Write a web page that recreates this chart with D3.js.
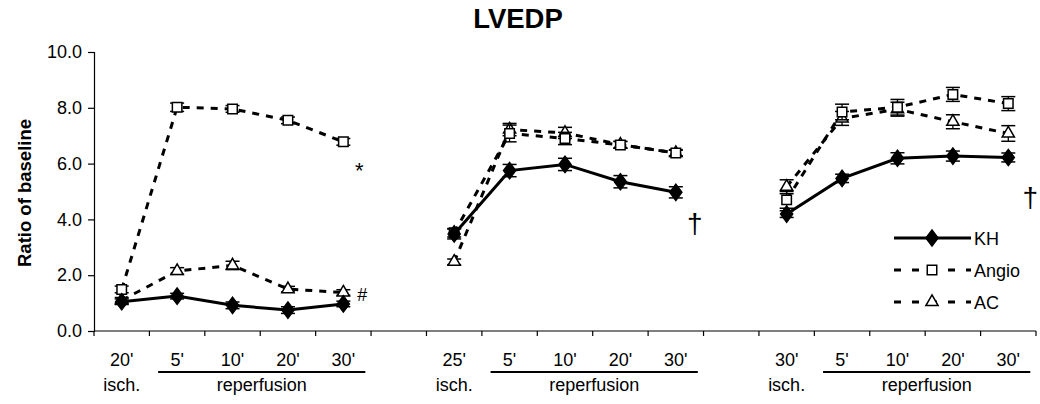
<!DOCTYPE html>
<html>
<head>
<meta charset="utf-8">
<script src="https://cdn.jsdelivr.net/npm/d3@7"></script>
<style>
  html, body { margin: 0; padding: 0; background: #fff; }
  svg { display: block; font-family: "Liberation Sans", Arial, sans-serif; }
</style>
</head>
<body>
<svg id="chart" width="1040" height="404"></svg>
<script>
// Time points: three protocols (20', 25', 30' ischemia) each followed by 4 reperfusion points,
// separated by one empty slot.
const timeLabels = ["20'", "5'", "10'", "20'", "30'", "", "25'", "5'", "10'", "20'", "30'", "", "30'", "5'", "10'", "20'", "30'"];
const phaseGroups = [
  { isch: 0, first: 1, last: 4 },
  { isch: 6, first: 7, last: 10 },
  { isch: 12, first: 13, last: 16 }
];

// LVEDP as ratio of baseline (null = gap between protocols)
const khValues    = [1.05, 1.25, 0.92, 0.75, 0.97, null, 3.48, 5.75, 5.97, 5.35, 4.97, null, 4.19, 5.47, 6.19, 6.27, 6.22];
const khErrors    = [0.10, 0.10, 0.12, 0.12, 0.10, null, 0.18, 0.22, 0.22, 0.22, 0.20, null, 0.12, 0.15, 0.20, 0.18, 0.16];
const angioValues = [1.49, 8.02, 7.96, 7.55, 6.78, null, 3.52, 7.08, 6.90, 6.67, 6.38, null, 4.70, 7.85, 8.02, 8.48, 8.15];
const angioErrors = [0.12, 0.15, 0.12, 0.12, 0.12, null, 0.15, 0.30, 0.22, 0.12, 0.10, null, 0.30, 0.28, 0.28, 0.25, 0.25];
const acValues    = [1.10, 2.15, 2.35, 1.50, 1.38, null, 2.48, 7.22, 7.10, 6.68, 6.38, null, 5.17, 7.62, 7.95, 7.50, 7.08];
const acErrors    = [0.10, 0.12, 0.15, 0.10, 0.10, null, 0.10, 0.22, 0.20, 0.12, 0.12, null, 0.25, 0.25, 0.25, 0.25, 0.28];

const yTicks = [0, 2, 4, 6, 8, 10];

// Significance marks after the last point of a protocol (value = text baseline)
const annotations = [
  { text: "*", index: 4, value: 5.48, dx: 16, size: 22 },
  { text: "#", index: 4, value: 1.06, dx: 19, size: 18 },
  { text: "\u2020", index: 10, value: 3.53, dx: 19, size: 28 },
  { text: "\u2020", index: 16, value: 4.43, dx: 22, size: 28 }
];

const svg = d3.select("#chart");

const x = d3.scaleBand().domain(d3.range(timeLabels.length)).range([94, 1036]).padding(0);
const y = d3.scaleLinear().domain([0, 10]).range([331, 52]);
const cx = i => x(i) + x.bandwidth() / 2;
const labelSize = 18;

// Title
svg.append("text")
  .attr("x", 518).attr("y", 28)
  .attr("text-anchor", "middle")
  .attr("font-size", 27.5).attr("font-weight", "bold")
  .text("LVEDP");

// Y axis
const yAxis = d3.axisLeft(y).tickValues(yTicks).tickFormat(d3.format(".1f")).tickSize(6).tickPadding(6);
const yg = svg.append("g").attr("transform", "translate(94,0)").call(yAxis);
yg.select(".domain").attr("stroke", "#000").attr("stroke-width", 1.2);
yg.selectAll(".tick line").attr("stroke", "#000").attr("stroke-width", 1.2);
yg.selectAll(".tick text").attr("font-size", labelSize).attr("fill", "#000").attr("font-family", "Liberation Sans, Arial, sans-serif");

// Y axis title
svg.append("text")
  .attr("transform", "translate(31,193) rotate(-90)")
  .attr("text-anchor", "middle")
  .attr("font-size", 18.5).attr("font-weight", "bold")
  .text("Ratio of baseline");

// X axis: ticks on category boundaries
const xg = svg.append("g");
xg.append("line")
  .attr("x1", x(0)).attr("x2", x.range()[1])
  .attr("y1", y(0)).attr("y2", y(0))
  .attr("stroke", "#000").attr("stroke-width", 1.2);
xg.selectAll("line.tick")
  .data(d3.range(timeLabels.length + 1))
  .join("line")
  .attr("class", "tick")
  .attr("x1", i => i < timeLabels.length ? x(i) : x.range()[1])
  .attr("x2", i => i < timeLabels.length ? x(i) : x.range()[1])
  .attr("y1", y(0)).attr("y2", y(0) + 5)
  .attr("stroke", "#000").attr("stroke-width", 1.2);

// Time labels
xg.selectAll("text.time")
  .data(timeLabels.map((t, i) => ({ t, i })).filter(d => d.t !== ""))
  .join("text")
  .attr("class", "time")
  .attr("x", d => cx(d.i)).attr("y", 366)
  .attr("text-anchor", "middle")
  .attr("font-size", labelSize)
  .text(d => d.t);

// Phase labels and underline for reperfusion
phaseGroups.forEach(g => {
  xg.append("text")
    .attr("x", cx(g.isch)).attr("y", 391)
    .attr("text-anchor", "middle").attr("font-size", labelSize)
    .text("isch.");
  const x1 = cx(g.first) - 19, x2 = cx(g.last) + 22;
  xg.append("line")
    .attr("x1", x1).attr("x2", x2).attr("y1", 372).attr("y2", 372)
    .attr("stroke", "#000").attr("stroke-width", 2.2);
  xg.append("text")
    .attr("x", (x1 + x2) / 2).attr("y", 391)
    .attr("text-anchor", "middle").attr("font-size", labelSize)
    .text("reperfusion");
});

// Marker shapes
const diamond = d3.symbol().type(d3.symbolDiamond).size(80);
const square = d3.symbol().type(d3.symbolSquare).size(90);
const triangle = d3.symbol().type(d3.symbolTriangle).size(65);

const series = [
  { name: "AC", values: acValues, errors: acErrors, dash: "7,7", marker: triangle, fill: "#fff" },
  { name: "Angio", values: angioValues, errors: angioErrors, dash: "7,7", marker: square, fill: "#fff" },
  { name: "KH", values: khValues, errors: khErrors, dash: null, marker: diamond, fill: "#000" }
];

const line = d3.line()
  .defined(d => d.v !== null)
  .x(d => cx(d.i))
  .y(d => y(d.v));

series.forEach(s => {
  const pts = s.values.map((v, i) => ({ v, e: s.errors[i], i }));
  const g = svg.append("g").attr("class", "series-" + s.name);
  g.append("path")
    .datum(pts)
    .attr("d", line)
    .attr("fill", "none")
    .attr("stroke", "#000")
    .attr("stroke-width", 3)
    .attr("stroke-dasharray", s.dash);

  const valid = pts.filter(d => d.v !== null);
  // Error bars
  const eb = g.selectAll("g.err").data(valid).join("g").attr("class", "err");
  eb.append("line")
    .attr("x1", d => cx(d.i)).attr("x2", d => cx(d.i))
    .attr("y1", d => y(d.v - d.e)).attr("y2", d => y(d.v + d.e))
    .attr("stroke", "#000").attr("stroke-width", 1.3);
  [-1, 1].forEach(sgn => {
    eb.append("line")
      .attr("x1", d => cx(d.i) - 7).attr("x2", d => cx(d.i) + 7)
      .attr("y1", d => y(d.v + sgn * d.e)).attr("y2", d => y(d.v + sgn * d.e))
      .attr("stroke", "#000").attr("stroke-width", 1.5);
  });
  // Markers
  g.selectAll("path.marker").data(valid).join("path")
    .attr("class", "marker")
    .attr("d", s.marker)
    .attr("transform", d => `translate(${cx(d.i)},${y(d.v)})` + (s.name === "KH" ? " scale(1.3,1)" : ""))
    .attr("fill", s.fill)
    .attr("stroke", "#000")
    .attr("stroke-width", s.name === "KH" ? 1 : 1.5);
});

// Significance marks
svg.selectAll("text.sig").data(annotations).join("text")
  .attr("class", "sig")
  .attr("x", d => cx(d.index) + d.dx)
  .attr("y", d => y(d.value))
  .attr("text-anchor", "middle")
  .attr("font-size", d => d.size)
  .text(d => d.text);

// Legend
const legendItems = [
  { name: "KH", dash: null, marker: diamond, fill: "#000" },
  { name: "Angio", dash: "7,11", marker: square, fill: "#fff" },
  { name: "AC", dash: "7,11", marker: triangle, fill: "#fff" }
];
const lg = svg.append("g");
legendItems.forEach((it, k) => {
  const ly = 238 + k * 32;
  lg.append("line")
    .attr("x1", 894).attr("x2", 971).attr("y1", ly).attr("y2", ly)
    .attr("stroke", "#000").attr("stroke-width", 3)
    .attr("stroke-dasharray", it.dash);
  lg.append("path")
    .attr("d", it.marker)
    .attr("transform", `translate(932,${ly})` + (it.name === "KH" ? " scale(1.3,1)" : ""))
    .attr("fill", it.fill).attr("stroke", "#000").attr("stroke-width", it.name === "KH" ? 1 : 1.5);
  lg.append("text")
    .attr("x", 974).attr("y", ly + 6.5)
    .attr("font-size", labelSize)
    .text(it.name);
});
</script>
</body>
</html>
